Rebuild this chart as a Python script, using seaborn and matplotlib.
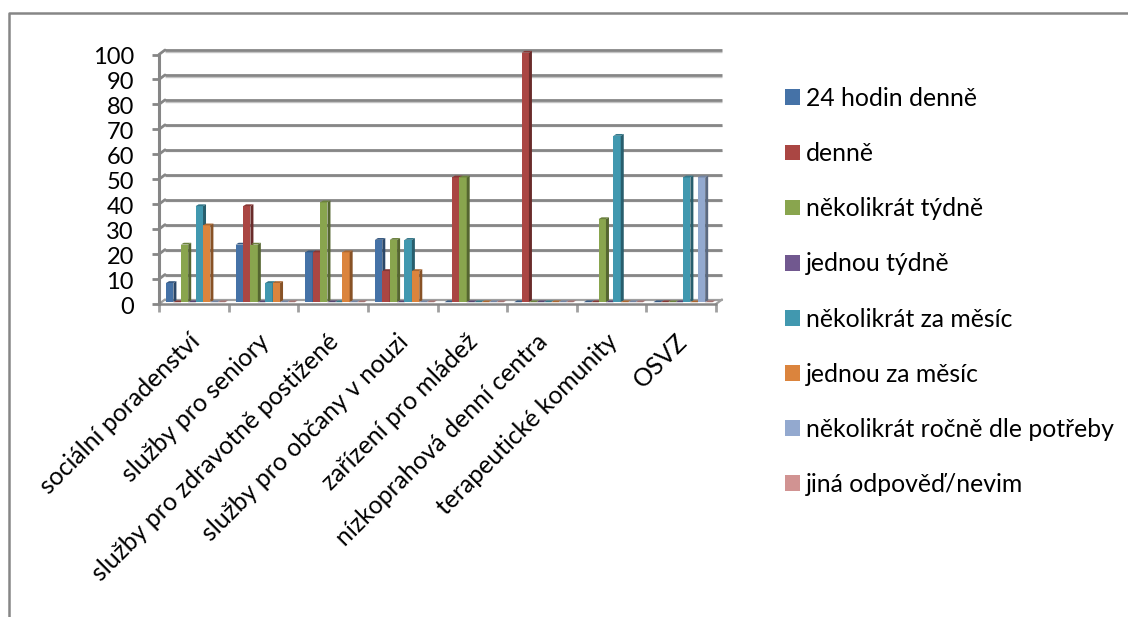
import numpy as np
import pandas as pd
import matplotlib
matplotlib.use("Agg")
import matplotlib.pyplot as plt
import seaborn as sns
from matplotlib.colors import to_rgb
from matplotlib.lines import Line2D
from matplotlib.patches import Patch, Polygon
from matplotlib.transforms import IdentityTransform, ScaledTranslation

categories = ["sociální poradenství", "služby pro seniory", "služby pro zdravotně postižené",
              "služby pro občany v nouzi", "zařízení pro mládež", "nízkoprahová denní centra",
              "terapeutické komunity", "OSVZ"]
series_names = ["24 hodin denně", "denně", "několikrát týdně", "jednou týdně",
                "několikrát za měsíc", "jednou za měsíc", "několikrát ročně dle potřeby",
                "jiná odpověď/nevim"]
h24 = [7.7, 23.1, 20, 25, 0, 0, 0, 0]
daily = [0, 38.5, 20, 12.5, 50, 100, 0, 0]
several_week = [23.1, 23.1, 40, 25, 50, 0, 33.3, 0]
once_week = [0, 0, 0, 0, 0, 0, 0, 0]
several_month = [38.5, 7.7, 0, 25, 0, 0, 66.7, 50]
once_month = [30.8, 7.7, 20, 12.5, 0, 0, 0, 0]
several_year = [0, 0, 0, 0, 0, 0, 0, 50]
other = [0, 0, 0, 0, 0, 0, 0, 0]
colors = ["#4572A7", "#AA4643", "#89A54E", "#71588F", "#4198AF", "#DB843D", "#93A9CF", "#D19392"]
y_ticks = list(range(0, 101, 10))

W, H = 1128, 617
FONT = "Lato"
GRID = "#868686"
FLOOR = "#A0A0A0"
sns.set_style("white")
plt.rcParams["font.family"] = [FONT, "DejaVu Sans"]

fig = plt.figure(figsize=(W / 100, H / 100), dpi=100)
ax = fig.add_axes([159 / W, 1 - 304 / H, (716 - 159) / W, (304 - 54.5) / H])
screen = IdentityTransform()


def px(dx, dy):
    """Data transform shifted by a number of pixels (y upward)."""
    return ax.transData + ScaledTranslation(dx / 100, dy / 100, fig.dpi_scale_trans)


table = pd.DataFrame({
    "category": np.repeat(categories, len(series_names)),
    "series": series_names * len(categories),
    "value": np.column_stack([h24, daily, several_week, once_week, several_month,
                              once_month, several_year, other]).ravel(),
})
sns.barplot(data=table, x="category", y="value", hue="series", order=categories,
            hue_order=series_names, palette=colors, width=0.85, gap=0, saturation=1,
            legend=False, linewidth=0, ax=ax)
ax.set_xlim(-0.5, 7.5)
ax.set_ylim(0, 100)
ax.set_xlabel("")
ax.set_ylabel("")

# Back wall: gridlines set back from the axis, joined to it by a short diagonal
back = px(6, 4.5)
for v in y_ticks[1:]:
    for shift, col, lw in ((-1.6, "#C4C4C4", 1.0), (0, GRID, 2.0)):
        ax.plot([-0.5, 7.5], [v, v], color=col, lw=lw, zorder=1,
                transform=px(6, 4.5 + shift), clip_on=False, solid_capstyle="butt")
    start = ax.transData.transform((-0.5, v))
    end = back.transform((-0.5, v))
    ax.add_line(Line2D([start[0], end[0]], [start[1], end[1]], transform=screen,
                       color=GRID, lw=2.0, zorder=1, clip_on=False))

# Floor outline
p0 = ax.transData.transform((7.5, 0))
p1 = back.transform((7.5, 0))
q0 = ax.transData.transform((-0.5, 0))
q1 = back.transform((-0.5, 0))
for a, b in ((p0, p1), (q0, q1)):
    ax.add_line(Line2D([a[0], b[0]], [a[1], b[1]], transform=screen, color=FLOOR, lw=1.6,
                       zorder=1, clip_on=False))
ax.plot([-0.5, 7.5], [0, 0], color=FLOOR, lw=1.6, zorder=1, transform=back, clip_on=False)
ax.plot([-0.5, 7.5], [0, 0], color=GRID, lw=1.8, zorder=1.5, clip_on=False)

# Extrude each bar with a darker right side and a lit top
bar_shift = px(1.8, 1.8)
DX, DY = 3.0, 1.8
for i, container in enumerate(ax.containers):
    base = np.array(to_rgb(colors[i]))
    z = 3 + i * 0.01
    for bar in container:
        bar.set_transform(bar_shift)
        bar.set_zorder(z)
        bar.set_clip_on(False)
        x0, x1 = bar.get_x(), bar.get_x() + bar.get_width()
        h = bar.get_height()
        (ax0, ay0), (ax1, ay1) = bar_shift.transform([(x0, 0), (x1, h)])
        side = [(ax1, ay0), (ax1 + DX, ay0 + DY), (ax1 + DX, ay1 + DY), (ax1, ay1)]
        top = [(ax0, ay1), (ax1, ay1), (ax1 + DX, ay1 + DY), (ax0 + DX, ay1 + DY)]
        ax.add_patch(Polygon(side, closed=True, transform=screen, facecolor=base * 0.62,
                             edgecolor="none", zorder=z, clip_on=False))
        ax.add_patch(Polygon(top, closed=True, transform=screen, facecolor=base * 0.78,
                             edgecolor="none", zorder=z, clip_on=False))

# Axes, ticks and labels
for name in ("top", "right", "bottom"):
    ax.spines[name].set_visible(False)
ax.spines["left"].set(color=GRID, linewidth=2.2, zorder=2)
ax.set_yticks(y_ticks, [str(v) for v in y_ticks])
ax.tick_params(axis="y", length=5, width=2.0, color=GRID, pad=13, labelsize=17,
               labelcolor="black", left=True)
ax.set_xticks(np.arange(-0.5, 8), minor=True)
ax.tick_params(axis="x", which="minor", length=6, width=2.0, color=FLOOR, bottom=True)
ax.set_xticks(range(len(categories)), categories)
ax.tick_params(axis="x", which="major", length=0, labelsize=17.8, labelcolor="black", pad=24.5)
for lab in ax.get_xticklabels():
    lab.set(rotation=45, ha="right", va="center", rotation_mode="anchor")
    lab.set_transform(lab.get_transform() + ScaledTranslation(2 / 100, 0, fig.dpi_scale_trans))
for lab in ax.get_yticklabels():
    lab.set_va("center")
    lab.set_transform(lab.get_transform() + ScaledTranslation(0, -3.5 / 100, fig.dpi_scale_trans))

# Legend
handles = [Patch(facecolor=c, edgecolor="none") for c in colors]
fig.legend(handles, series_names, loc="upper left", bbox_to_anchor=(763 / W, 1 - 64.8 / H),
           frameon=False, fontsize=17.8, handlelength=0.6, handleheight=0.6,
           handletextpad=0.25, labelspacing=1.30, borderpad=0.4, labelcolor="black")

# Outer frame of the chart area
fig.add_artist(Line2D([8.5 / W, 8.5 / W, 1], [0, 1 - 13 / H, 1 - 13 / H], color=GRID, lw=1.8,
                      transform=fig.transFigure))

fig.savefig("out.png", dpi=100)
